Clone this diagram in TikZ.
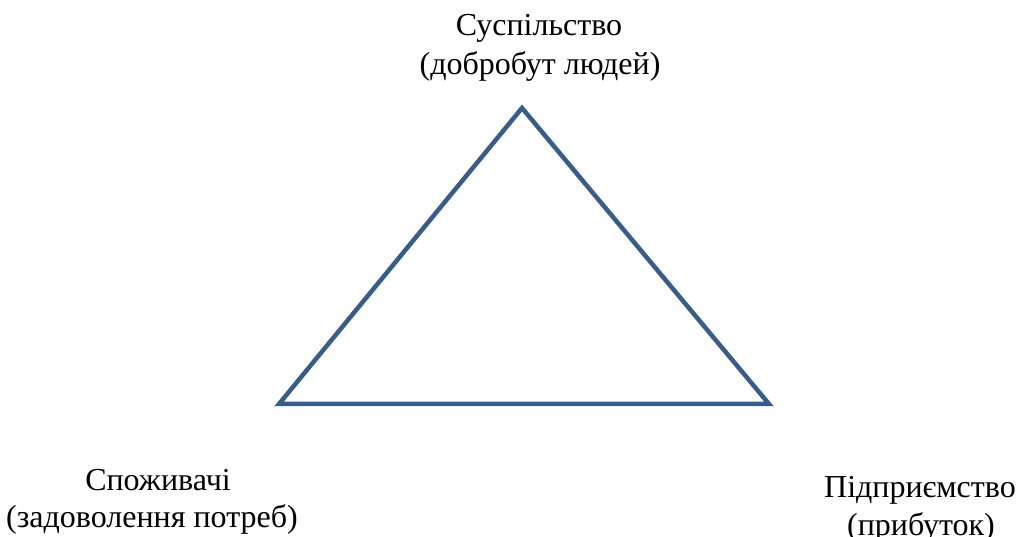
\documentclass[tikz,border=0pt]{standalone}
\usepackage{fontspec}
\setmainfont{Liberation Serif}
\usepackage{xcolor}
\usepackage{tikz}
\definecolor{edgeblue}{HTML}{385D8A}

\begin{document}
\begin{tikzpicture}[x=1pt,y=-1pt,
  lbl/.style={anchor=base,inner sep=0pt,font=\fontsize{32}{37}\selectfont}]
\useasboundingbox(0,0)rectangle(1018,537);
\coordinate(apex)at(522,108);
\coordinate(cons)at(279,404);
\coordinate(firm)at(769,404);
\draw[line width=4.5pt,edgeblue,line join=miter](apex)--(firm)--(cons)--cycle;
\node[lbl](socTitle)at(539,36){Суспільство};
\node[lbl](socNote)at(540,75){(добробут людей)};
\node[lbl](conTitle)at(158,490){Споживачі};
\node[lbl](conNote)at(152,527){(задоволення потреб)};
\node[lbl](firmTitle)at(920,497){Підприємство};
\node[lbl](firmNote)at(921,535){(прибуток)};
\end{tikzpicture}
\end{document}
